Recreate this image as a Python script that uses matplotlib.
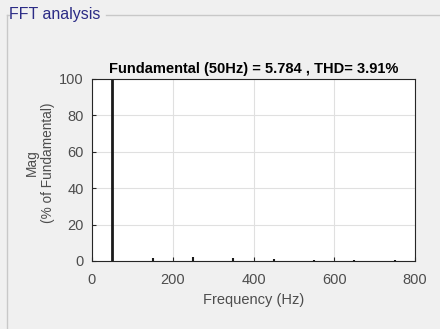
import matplotlib.pyplot as plt
from matplotlib.lines import Line2D

plt.rcParams["font.family"] = ["Liberation Sans", "DejaVu Sans"]

# harmonic spectrum (% of fundamental)
freqs = [50, 150, 250, 350, 450, 550, 650, 750]
mags = [100, 1.8, 2.4, 1.4, 1.1, 0.8, 0.5, 0.3]
xticks = [0, 200, 400, 600, 800]
yticks = [0, 20, 40, 60, 80, 100]
title = "Fundamental (50Hz) = 5.784 , THD= 3.91%"

fig = plt.figure(figsize=(4.4, 3.29), dpi=100)
fig.patch.set_facecolor("#f0f0f0")

# group box frame
fig.add_artist(Line2D([7 / 440, 7 / 440], [1 - 15 / 329, 0], color="#c8c8c8", lw=1))
fig.add_artist(Line2D([7 / 440, 9 / 440], [1 - 15 / 329] * 2, color="#c8c8c8", lw=1))
fig.add_artist(Line2D([106 / 440, 1], [1 - 15 / 329] * 2, color="#c8c8c8", lw=1))
fig.text(9 / 440, 1 - 15 / 329, "FFT analysis", color="#2b2b85", fontsize=11.5,
         va="center", ha="left")

ax = fig.add_axes([92 / 440, 1 - 261 / 329, 323 / 440, 182 / 329])
ax.set_facecolor("white")
ax.vlines(freqs[:1], 0, mags[:1], color="#1a1a1a", lw=2)
ax.vlines(freqs[1:], 0, mags[1:], color="#1a1a1a", lw=1.5)

ax.set_xlim(0, 800)
ax.set_ylim(0, 100)
ax.set_xticks(xticks)
ax.set_yticks(yticks)
ax.grid(True, color="#e0e0e0", lw=0.8)
ax.set_axisbelow(True)
ax.tick_params(direction="in", length=3, colors="#262626", labelcolor="#4d4d4d",
               labelsize=10.5)
ax.tick_params(axis="x", pad=9)
ax.tick_params(axis="y", pad=6)
for s in ax.spines.values():
    s.set_color("#262626")
    s.set_linewidth(0.8)

ax.set_title(title, fontsize=10.5, fontweight="bold", pad=4)
ax.set_xlabel("Frequency (Hz)", fontsize=10.5, color="#4d4d4d", labelpad=4)
ax.set_ylabel("Mag\n(% of Fundamental)", fontsize=9.8, color="#4d4d4d")
ax.yaxis.set_label_coords(-0.115, 0.54)

fig.savefig("out.png", dpi=100, facecolor=fig.get_facecolor())
